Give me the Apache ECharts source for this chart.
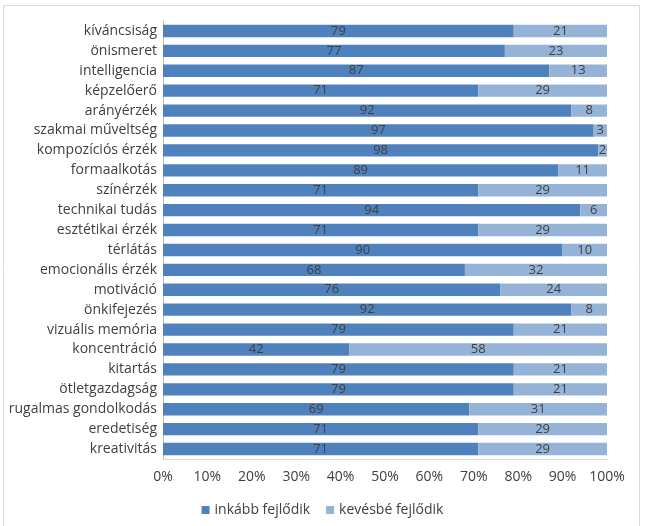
<!DOCTYPE html>
<html><head><meta charset="utf-8">
<script src="https://cdn.jsdelivr.net/npm/echarts@6/dist/echarts.min.js"></script>
<style>html,body{margin:0;padding:0;background:#fff}#c{width:645px;height:526px}</style>
</head><body><div id="c"></div>
<script>
const categories = ['kíváncsiság','önismeret','intelligencia','képzelőerő','arányérzék','szakmai műveltség','kompozíciós érzék','formaalkotás','színérzék','technikai tudás','esztétikai érzék','térlátás','emocionális érzék','motiváció','önkifejezés','vizuális memória','koncentráció','kitartás','ötletgazdagság','rugalmas gondolkodás','eredetiség','kreativitás'];
const inkabb = [79,77,87,71,92,97,98,89,71,94,71,90,68,76,92,79,42,79,79,69,71,71];
const kevesbe = [21,23,13,29,8,3,2,11,29,6,29,10,32,24,8,21,58,21,21,31,29,29];
const seriesNames = ['inkább fejlődik','kevésbé fejlődik'];
const xTicks = [0,10,20,30,40,50,60,70,80,90,100];

const FONT = '"Open Sans", sans-serif';
const chart = echarts.init(document.getElementById('c'));
const lbl = {show:true, position:'inside', color:'#404040', fontSize:13, fontFamily:FONT};
chart.setOption({
  animation:false,
  graphic:[{type:'rect', shape:{x:3.5,y:5.5,width:636,height:530}, style:{fill:'none', stroke:'#d9d9d9', lineWidth:1}, silent:true}],
  grid:{left:163, right:38, top:21, bottom:67},
  legend:{bottom:4, left:'center', itemWidth:8, itemHeight:8, itemGap:16, itemStyle:{}, icon:'rect',
    textStyle:{fontSize:14, fontFamily:FONT, color:'#404040'}, data:seriesNames},
  xAxis:{type:'value', min:0, max:100, interval:10,
    axisLine:{show:true, lineStyle:{color:'#d9d9d9'}}, axisTick:{show:false}, splitLine:{show:false},
    axisLabel:{formatter: v => xTicks.includes(v) ? v + '%' : '', fontSize:14, fontFamily:FONT, color:'#404040', margin:11}},
  yAxis:{type:'category', inverse:true, data:categories,
    axisLine:{show:true, lineStyle:{color:'#bfbfbf'}}, axisTick:{show:false},
    axisLabel:{fontSize:14, fontFamily:FONT, color:'#404040', margin:6}},
  series:[
    {name:seriesNames[0], type:'bar', stack:'s', data:inkabb, barCategoryGap:'38%', itemStyle:{color:'#4F81BD'}, label:lbl},
    {name:seriesNames[1], type:'bar', stack:'s', data:kevesbe, barCategoryGap:'38%', itemStyle:{color:'#95B3D7'}, label:lbl}
  ]
});
</script></body></html>
